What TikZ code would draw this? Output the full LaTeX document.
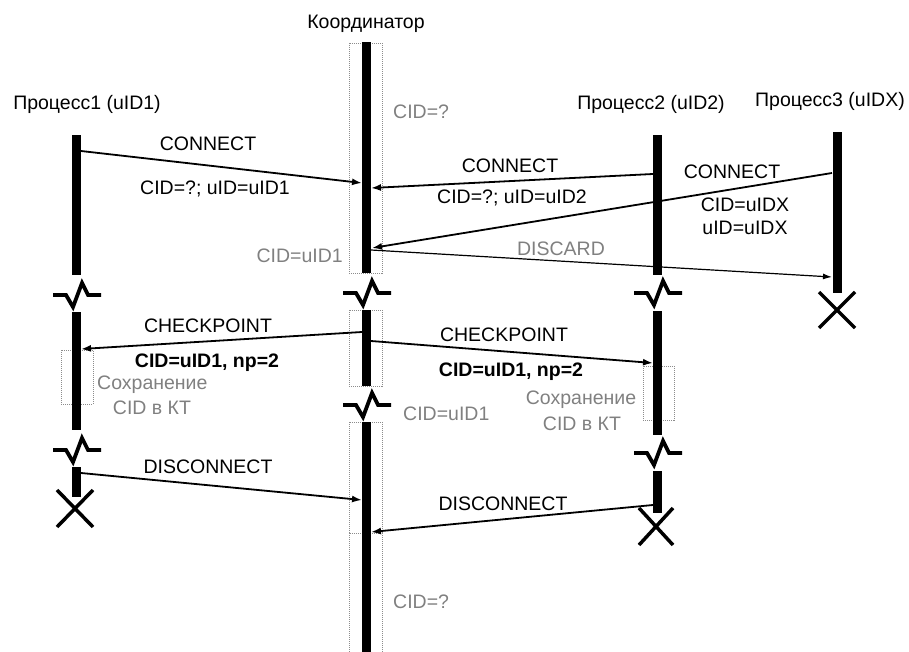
\documentclass[tikz,border=0pt]{standalone}
\usepackage{fontspec}
\setmainfont{Liberation Sans}
\usetikzlibrary{arrows.meta}
\begin{document}
\begin{tikzpicture}[x=1pt,y=-1pt,
  bar/.style={fill=black,draw=none,inner sep=0pt,minimum width=9pt},
  lbl/.style={font=\fontsize{19.5}{22}\selectfont,inner sep=0pt,anchor=base},
  blbl/.style={lbl,font=\fontsize{19.5}{22}\selectfont\bfseries},
  glbl/.style={lbl,text=black!50},
  msg/.style={line width=1.8pt,-{Latex[length=10pt,width=7pt]}},
  thinmsg/.style={line width=1.2pt,-{Latex[length=9pt,width=6pt]}},
  dbox/.style={draw=black!45,line width=0.8pt,dash pattern=on 1pt off 1pt},
  brkline/.style={line width=3.8pt,line join=miter},
  xmark/.style={line width=3.5pt}
]
\useasboundingbox (0,0) rectangle (909,652);

% headers
\node[lbl] (hc) at (366,29) {Координатор};
\node[lbl] (h1) at (87,110) {Процесс1 (uID1)};
\node[lbl] (h2) at (651,110) {Процесс2 (uID2)};
\node[lbl] (h3) at (830,107) {Процесс3 (uIDX)};

% dotted boxes
\draw[dbox] (349,43) rectangle (382,273);
\draw[dbox] (349,310) rectangle (382,386);
\draw[dbox] (349,422) rectangle (382,533);
\draw[dbox] (349,533) rectangle (382,660);
\draw[dbox] (61,350) rectangle (93,404);
\draw[dbox] (643,366) rectangle (674,420);

% lifeline bars
\node[bar,minimum height=140pt] (p1a) at (76.5,205) {};
\node[bar,minimum height=118pt] (p1b) at (76.5,371) {};
\node[bar,minimum height=30pt]  (p1c) at (76.5,482) {};
\node[bar,minimum height=231pt] (ca) at (366.5,157.5) {};
\node[bar,minimum height=76pt]  (cb) at (366.5,348) {};
\node[bar,minimum height=236pt] (cc) at (366.5,540) {};
\node[bar,minimum height=140pt] (p2a) at (657.5,205) {};
\node[bar,minimum height=124pt] (p2b) at (657.5,373) {};
\node[bar,minimum height=42pt]  (p2c) at (657.5,492) {};
\node[bar,minimum height=161pt] (p3a) at (837,212.5) {};

% break marks
\foreach \cx/\cy in {76/295, 76/450, 366/293, 366/405, 657/293, 657/453}{
  \draw[brkline] (\cx-23,\cy) -- (\cx-10,\cy) -- (\cx-3,\cy+12) -- (\cx+6,\cy-12) -- (\cx+12,\cy) -- (\cx+25,\cy);
}

% end marks
\draw[xmark] (57,490) -- (93,527) (93,490) -- (57,527);
\draw[xmark] (639,508) -- (673,545) (673,508) -- (639,545);
\draw[xmark] (819,292) -- (855,328) (855,292) -- (819,328);

% message end points
\coordinate (m1s) at (81,151);  \coordinate (m1e) at (362,183);
\coordinate (m2s) at (653,174); \coordinate (m2e) at (371,188);
\coordinate (m3s) at (832,173); \coordinate (m3e) at (372,248);
\coordinate (m4s) at (371,250); \coordinate (m4e) at (832,277);
\coordinate (m5s) at (362,332); \coordinate (m5e) at (81,349);
\coordinate (m6s) at (371,341); \coordinate (m6e) at (653,363);
\coordinate (m7s) at (81,473);  \coordinate (m7e) at (362,500);
\coordinate (m8s) at (653,505); \coordinate (m8e) at (371,532);

\draw[msg] (m1s) -- (m1e);
\draw[msg] (m2s) -- (m2e);
\draw[msg] (m3s) -- (m3e);
\draw[thinmsg] (m4s) -- (m4e);
\draw[msg] (m5s) -- (m5e);
\draw[msg] (m6s) -- (m6e);
\draw[msg] (m7s) -- (m7e);
\draw[msg] (m8s) -- (m8e);

% labels
\node[glbl,anchor=base west] (t1) at (393,119) {CID=?};
\node[lbl] (t2) at (208,151) {CONNECT};
\node[lbl] (t3) at (215,195) {CID=?; uID=uID1};
\node[lbl] (t4) at (510,173) {CONNECT};
\node[lbl] (t5) at (512,204) {CID=?; uID=uID2};
\node[lbl] (t6) at (732,179) {CONNECT};
\node[lbl] (t7) at (745,212) {CID=uIDX};
\node[lbl] (t8) at (745,235) {uID=uIDX};
\node[glbl] (t9) at (561,255) {DISCARD};
\node[glbl,anchor=base east] (t10) at (343,262) {CID=uID1};
\node[lbl] (t11) at (208,332) {CHECKPOINT};
\node[blbl] (t12) at (207,367) {CID=uID1, np=2};
\node[glbl,anchor=base west] (t13) at (97,389) {Сохранение};
\node[glbl] (t14) at (152,414) {CID в КТ};
\node[lbl] (t15) at (504,341) {CHECKPOINT};
\node[blbl] (t16) at (511,376) {CID=uID1, np=2};
\node[glbl,anchor=base west] (t17) at (403,420) {CID=uID1};
\node[glbl] (t18) at (581,404) {Сохранение};
\node[glbl] (t19) at (582,430) {CID в КТ};
\node[lbl] (t20) at (208,473) {DISCONNECT};
\node[lbl] (t21) at (503,510) {DISCONNECT};
\node[glbl,anchor=base west] (t22) at (393,608) {CID=?};
\end{tikzpicture}
\end{document}
